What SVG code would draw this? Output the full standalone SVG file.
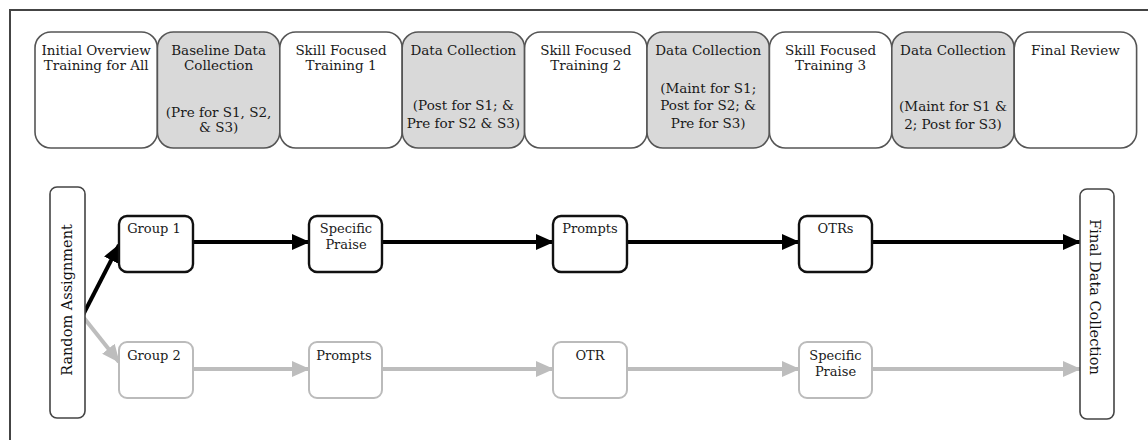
<svg xmlns="http://www.w3.org/2000/svg" width="1148" height="440" viewBox="0 0 1148 440">
<style>
.bg{fill:#ffffff}
.frame{fill:none;stroke:#444;stroke-width:2}
.top{stroke:#555;stroke-width:1.6}
.w{fill:#ffffff}
.g{fill:#d9d9d9}
.t{font-family:"DejaVu Serif","Liberation Serif",serif;font-size:13.5px;fill:#1a1a1a;text-anchor:middle}
.n{font-family:"DejaVu Serif","Liberation Serif",serif;font-size:13px;fill:#1a1a1a;text-anchor:middle}
.nb{fill:#fff;stroke:#111;stroke-width:2.4}
.ng{fill:#fff;stroke:#bbb;stroke-width:2}
.side{fill:#fff;stroke:#444;stroke-width:1.6}
.v{font-family:"DejaVu Serif","Liberation Serif",serif;font-size:14.5px;fill:#111;text-anchor:middle}
.cb{stroke:#000;stroke-width:4;fill:none}
.cg{stroke:#bdbdbd;stroke-width:4;fill:none}
</style>
<defs>
<marker id="ab" markerUnits="userSpaceOnUse" markerWidth="18" markerHeight="16" refX="17" refY="8" orient="auto"><path d="M0,0 L18,8 L0,16 Z" fill="#000"/></marker>
<marker id="ag" markerUnits="userSpaceOnUse" markerWidth="18" markerHeight="16" refX="17" refY="8" orient="auto"><path d="M0,0 L18,8 L0,16 Z" fill="#bdbdbd"/></marker>
</defs>
<rect class="bg" x="0" y="0" width="1148" height="440"/>
<rect class="frame" x="10" y="10" width="1160" height="460"/>

<g id="phase1"><rect class="top w" x="35" y="32" width="122.4" height="116" rx="16"/><text class="t" x="96.2" y="55">Initial Overview</text><text class="t" x="96.2" y="70">Training for All</text></g>
<g id="phase2"><rect class="top g" x="157.4" y="32" width="122.4" height="116" rx="16"/><text class="t" x="218.6" y="55">Baseline Data</text><text class="t" x="218.6" y="70">Collection</text><text class="t" x="218.6" y="117">(Pre for S1, S2,</text><text class="t" x="218.6" y="132">&amp; S3)</text></g>
<g id="phase3"><rect class="top w" x="279.8" y="32" width="122.4" height="116" rx="16"/><text class="t" x="341" y="55">Skill Focused</text><text class="t" x="341" y="70">Training 1</text></g>
<g id="phase4"><rect class="top g" x="402.2" y="32" width="122.4" height="116" rx="16"/><text class="t" x="463.4" y="55">Data Collection</text><text class="t" x="463.4" y="110">(Post for S1; &amp;</text><text class="t" x="463.4" y="128">Pre for S2 &amp; S3)</text></g>
<g id="phase5"><rect class="top w" x="524.6" y="32" width="122.4" height="116" rx="16"/><text class="t" x="585.8" y="55">Skill Focused</text><text class="t" x="585.8" y="70">Training 2</text></g>
<g id="phase6"><rect class="top g" x="647" y="32" width="122.4" height="116" rx="16"/><text class="t" x="708.2" y="55">Data Collection</text><text class="t" x="708.2" y="93">(Maint for S1;</text><text class="t" x="708.2" y="110">Post for S2; &amp;</text><text class="t" x="708.2" y="128">Pre for S3)</text></g>
<g id="phase7"><rect class="top w" x="769.4" y="32" width="122.4" height="116" rx="16"/><text class="t" x="830.6" y="55">Skill Focused</text><text class="t" x="830.6" y="70">Training 3</text></g>
<g id="phase8"><rect class="top g" x="891.8" y="32" width="122.4" height="116" rx="16"/><text class="t" x="953" y="55">Data Collection</text><text class="t" x="953" y="111">(Maint for S1 &amp;</text><text class="t" x="953" y="129">2; Post for S3)</text></g>
<g id="phase9"><rect class="top w" x="1014.2" y="32" width="122.4" height="116" rx="16"/><text class="t" x="1075.4" y="55">Final Review</text></g>

<g id="connectors">
<line class="cb" x1="83" y1="315" x2="119" y2="245" marker-end="url(#ab)"/>
<line class="cg" x1="84" y1="318" x2="119" y2="362" marker-end="url(#ag)"/>
<line class="cb" x1="193" y1="242" x2="309" y2="242" marker-end="url(#ab)"/>
<line class="cb" x1="382" y1="242" x2="553" y2="242" marker-end="url(#ab)"/>
<line class="cb" x1="627" y1="242" x2="799" y2="242" marker-end="url(#ab)"/>
<line class="cb" x1="872" y1="242" x2="1080" y2="242" marker-end="url(#ab)"/>
<line class="cg" x1="193" y1="369" x2="309" y2="369" marker-end="url(#ag)"/>
<line class="cg" x1="382" y1="369" x2="553" y2="369" marker-end="url(#ag)"/>
<line class="cg" x1="627" y1="369" x2="799" y2="369" marker-end="url(#ag)"/>
<line class="cg" x1="872" y1="369" x2="1080" y2="369" marker-end="url(#ag)"/>
</g>

<g id="random"><rect class="side" x="50" y="187" width="35" height="231" rx="7"/><text class="v" transform="translate(72,300) rotate(-90)">Random Assignment</text></g>
<g id="final"><rect class="side" x="1080" y="189" width="34" height="230" rx="7"/><text class="v" transform="translate(1090,297) rotate(90)">Final Data Collection</text></g>

<g id="g1"><rect class="nb" x="119" y="216" width="74" height="56" rx="8"/><text class="n" x="154" y="233">Group 1</text></g>
<g id="sp1"><rect class="nb" x="309" y="216" width="73" height="56" rx="8"/><text class="n" x="346" y="233">Specific</text><text class="n" x="346" y="249">Praise</text></g>
<g id="pr1"><rect class="nb" x="553" y="216" width="74" height="56" rx="8"/><text class="n" x="590" y="233">Prompts</text></g>
<g id="otrs"><rect class="nb" x="799" y="216" width="73" height="56" rx="8"/><text class="n" x="835.5" y="233">OTRs</text></g>

<g id="g2"><rect class="ng" x="119" y="342" width="74" height="56" rx="8"/><text class="n" x="154" y="360">Group 2</text></g>
<g id="pr2"><rect class="ng" x="309" y="342" width="73" height="56" rx="8"/><text class="n" x="344" y="360">Prompts</text></g>
<g id="otr"><rect class="ng" x="553" y="342" width="74" height="56" rx="8"/><text class="n" x="590" y="360">OTR</text></g>
<g id="sp2"><rect class="ng" x="799" y="342" width="73" height="56" rx="8"/><text class="n" x="835.5" y="360">Specific</text><text class="n" x="835.5" y="376">Praise</text></g>
</svg>
